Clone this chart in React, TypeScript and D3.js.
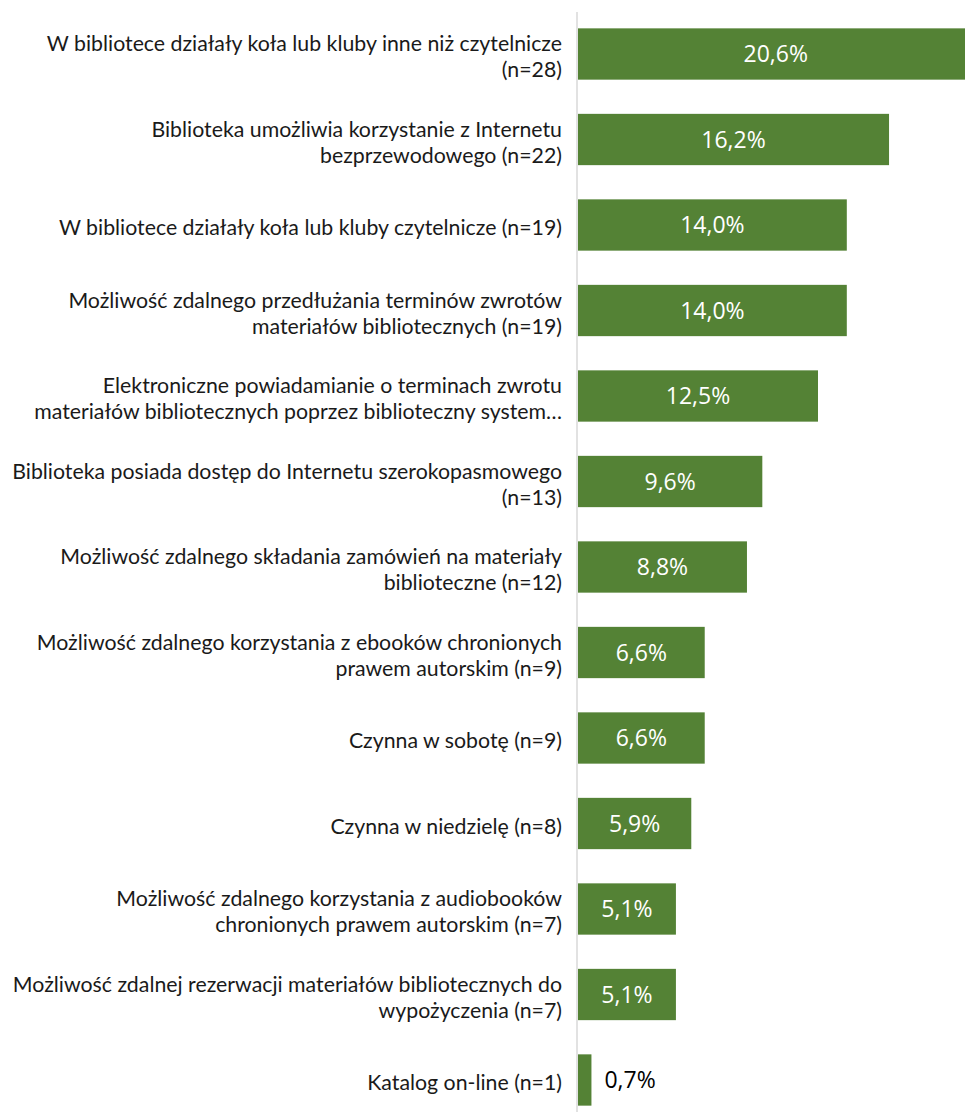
import React from "react";
import * as d3 from "d3";

const categories: string[][] = [
  ["W bibliotece działały koła lub kluby inne niż czytelnicze", "(n=28)"],
  ["Biblioteka umożliwia korzystanie z Internetu", "bezprzewodowego (n=22)"],
  ["W bibliotece działały koła lub kluby czytelnicze (n=19)"],
  ["Możliwość zdalnego przedłużania terminów zwrotów", "materiałów bibliotecznych (n=19)"],
  ["Elektroniczne powiadamianie o terminach zwrotu", "materiałów bibliotecznych poprzez biblioteczny system…"],
  ["Biblioteka posiada dostęp do Internetu szerokopasmowego", "(n=13)"],
  ["Możliwość zdalnego składania zamówień na materiały", "biblioteczne (n=12)"],
  ["Możliwość zdalnego korzystania z ebooków chronionych", "prawem autorskim (n=9)"],
  ["Czynna w sobotę (n=9)"],
  ["Czynna w niedzielę (n=8)"],
  ["Możliwość zdalnego korzystania z audiobooków", "chronionych prawem autorskim (n=7)"],
  ["Możliwość zdalnej rezerwacji materiałów bibliotecznych do", "wypożyczenia (n=7)"],
  ["Katalog on-line (n=1)"],
];

const values: number[] = [20.6, 16.2, 14.0, 14.0, 12.5, 9.6, 8.8, 6.6, 6.6, 5.9, 5.1, 5.1, 0.7];

const fmt = (v: number) => v.toFixed(1).replace(".", ",") + "%";

export default function App() {
  const W = 965;
  const H = 1112;
  const x0 = 578;
  const idx = values.map((_, i) => String(i));
  const x = d3.scaleLinear().domain([0, 20.6]).range([x0, x0 + 20.6 * 19.2]);
  const y = d3
    .scaleBand<string>()
    .domain(idx)
    .range([11.25, 11.25 + 13 * 85.5])
    .paddingInner(0.4)
    .paddingOuter(0.2);
  const bw = y.bandwidth();
  const lineH = 26;

  return (
    <svg
      width={W}
      height={H}
      style={{ position: "absolute", left: 0, top: 0, background: "#fff" }}
    >
      <line x1={x0 - 1} x2={x0 - 1} y1={12} y2={H} stroke="#d9d9d9" strokeWidth={1.5} />
      {values.map((v, i) => {
        const yy = y(String(i))!;
        const cy = yy + bw / 2;
        const wBar = x(v) - x(0);
        const inside = wBar > 60;
        const lines = categories[i];
        return (
          <g key={i}>
            <rect x={x(0)} y={yy} width={wBar} height={bw} fill="#548235" />
            <text
              x={inside ? x(0) + wBar / 2 : x(v) + 13}
              y={cy}
              dy="0.36em"
              textAnchor={inside ? "middle" : "start"}
              fill={inside ? "#ffffff" : "#000000"}
              fontFamily="'Open Sans', sans-serif"
              fontSize={23}
            >
              {fmt(v)}
            </text>
            <text
              textAnchor="end"
              fontFamily="Lato, sans-serif"
              fontSize={21.3}
              fill="#1a1a1a"
            >
              {lines.map((l, j) => (
                <tspan
                  key={j}
                  x={562}
                  y={cy + 3 + (j - (lines.length - 1) / 2) * lineH}
                  dy="0.35em"
                >
                  {l}
                </tspan>
              ))}
            </text>
          </g>
        );
      })}
    </svg>
  );
}
